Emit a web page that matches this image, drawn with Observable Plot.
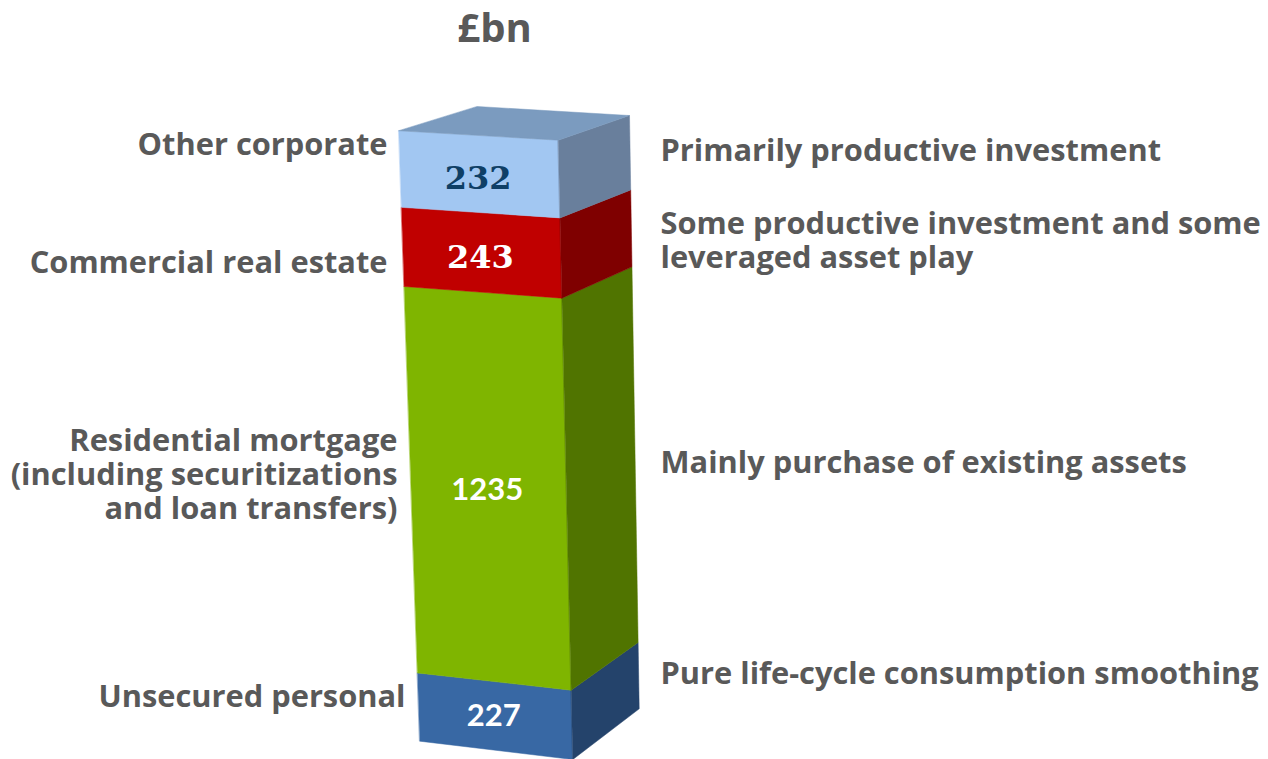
<!DOCTYPE html>
<html>
<head>
<meta charset="utf-8">
<script src="https://cdn.jsdelivr.net/npm/d3@7"></script>
<script src="https://cdn.jsdelivr.net/npm/@observablehq/plot@0.6"></script>
<style>html,body{margin:0;padding:0;background:#fff}svg{display:block}</style>
</head>
<body>
<div id="chart"></div>
<script>
// Data, bottom to top
const categories = ["Unsecured personal", "Residential mortgage", "Commercial real estate", "Other corporate"];
const values = [227, 1235, 243, 232];
const title = "£bn";
const leftLabels = ["Unsecured personal", "Residential mortgage\n(including securitizations\nand loan transfers)", "Commercial real estate", "Other corporate"];
const rightLabels = ["Pure life-cycle consumption smoothing", "Mainly purchase of existing assets", "Some productive investment and some\nleveraged asset play", "Primarily productive investment"];

// Styles
const frontColors = ["#3868a4", "#7fb500", "#c00000", "#a2c7f2"];
const sideColors = ["#24436b", "#507400", "#7f0000", "#697f9c"];
const topColor = "#7b9bbf";
const valueColors = ["#fff", "#fff", "#fff", "#0f3f66"];
const valueFonts = ["Lato", "Lato", "DejaVu Serif", "DejaVu Serif"];
const valueSizes = [31, 31, 32, 32];
const valueDy = [0, 0, 5, 5];
const ink = "#595959";

// Layout of the text blocks
const leftPos = [[405, 696], [397, 474], [387, 262], [387, 144]];
const rightPos = [[660, 673], [660, 462], [660, 240], [660, 150]];
const titlePos = [494, 29];

// Camera: the perspective projection of the column's vertical edges (value 0 → total)
const total = d3.sum(values);
const persp = -2.646e-5;
const edges = {
  frontLeft:  [[419.3, 740.7], [398.3, 130.3]],
  frontRight: [[572.3, 759], [557.7, 139.7]],
  backRight:  [[638.7, 708.3], [629, 115]],
  backLeft:   [[476.7, 106], [476.7, 106]]
};
const along = (h) => (h / total) * (1 + persp * total) / (1 + persp * h);
const project = (edge, h) => {
  const [[x0, y0], [x1, y1]] = edges[edge];
  const s = along(h);
  return {x: x0 + (x1 - x0) * s, y: y0 + (y1 - y0) * s};
};

// Faces built from the stacked values
const bounds = d3.cumsum(values);
const faces = [];
values.forEach((v, i) => {
  const h0 = bounds[i] - v, h1 = bounds[i];
  [["frontLeft", "frontRight", frontColors[i]], ["frontRight", "backRight", sideColors[i]]].forEach(([a, b, color]) => {
    const id = categories[i] + a;
    faces.push(
      {id, color, ...project(a, h0)},
      {id, color, ...project(b, h0)},
      {id, color, ...project(b, h1)},
      {id, color, ...project(a, h1)}
    );
  });
});
["frontLeft", "frontRight", "backRight", "backLeft"].forEach((e) =>
  faces.push({id: "top", color: topColor, ...project(e, total)})
);

// Value labels sit on the centre of each front face
const valueLabels = values.map((v, i) => {
  const h = bounds[i] - v / 2;
  const a = project("frontLeft", h), b = project("frontRight", h);
  return {text: String(v), x: (a.x + b.x) / 2 - 1.5, y: (a.y + b.y) / 2 + valueDy[i], fill: valueColors[i], font: valueFonts[i], size: valueSizes[i]};
});

const labelOpts = {
  x: (d) => d.x, y: (d) => d.y, text: "text",
  fill: ink, fontFamily: "Open Sans", fontWeight: 700, fontSize: 30.8,
  lineHeight: 1.104, lineAnchor: "middle"
};
const toRows = (labels, pos) => labels.map((text, i) => ({text, x: pos[i][0], y: pos[i][1]}));

const plot = Plot.plot({
  width: 1268, height: 759,
  margin: 0,
  x: {type: "identity", axis: null},
  y: {type: "identity", axis: null},
  color: {type: "identity"},
  marks: [
    Plot.line(faces, {x: "x", y: "y", z: "id", fill: "color", stroke: "color", strokeWidth: 0.5, curve: "linear-closed"}),
    Plot.text(toRows(leftLabels, leftPos), {...labelOpts, textAnchor: "end"}),
    Plot.text(toRows(rightLabels, rightPos), {...labelOpts, textAnchor: "start"}),
    ...valueLabels.map((d) => Plot.text([d], {x: "x", y: "y", text: "text", fill: d.fill, fontFamily: d.font, fontWeight: 700, fontSize: d.size, lineAnchor: "middle"})),
    Plot.text([title], {x: () => titlePos[0], y: () => titlePos[1], text: (d) => d, fill: ink, fontFamily: "Open Sans", fontWeight: 700, fontSize: 40, lineAnchor: "middle"})
  ]
});
document.getElementById("chart").append(plot);
</script>
</body>
</html>
